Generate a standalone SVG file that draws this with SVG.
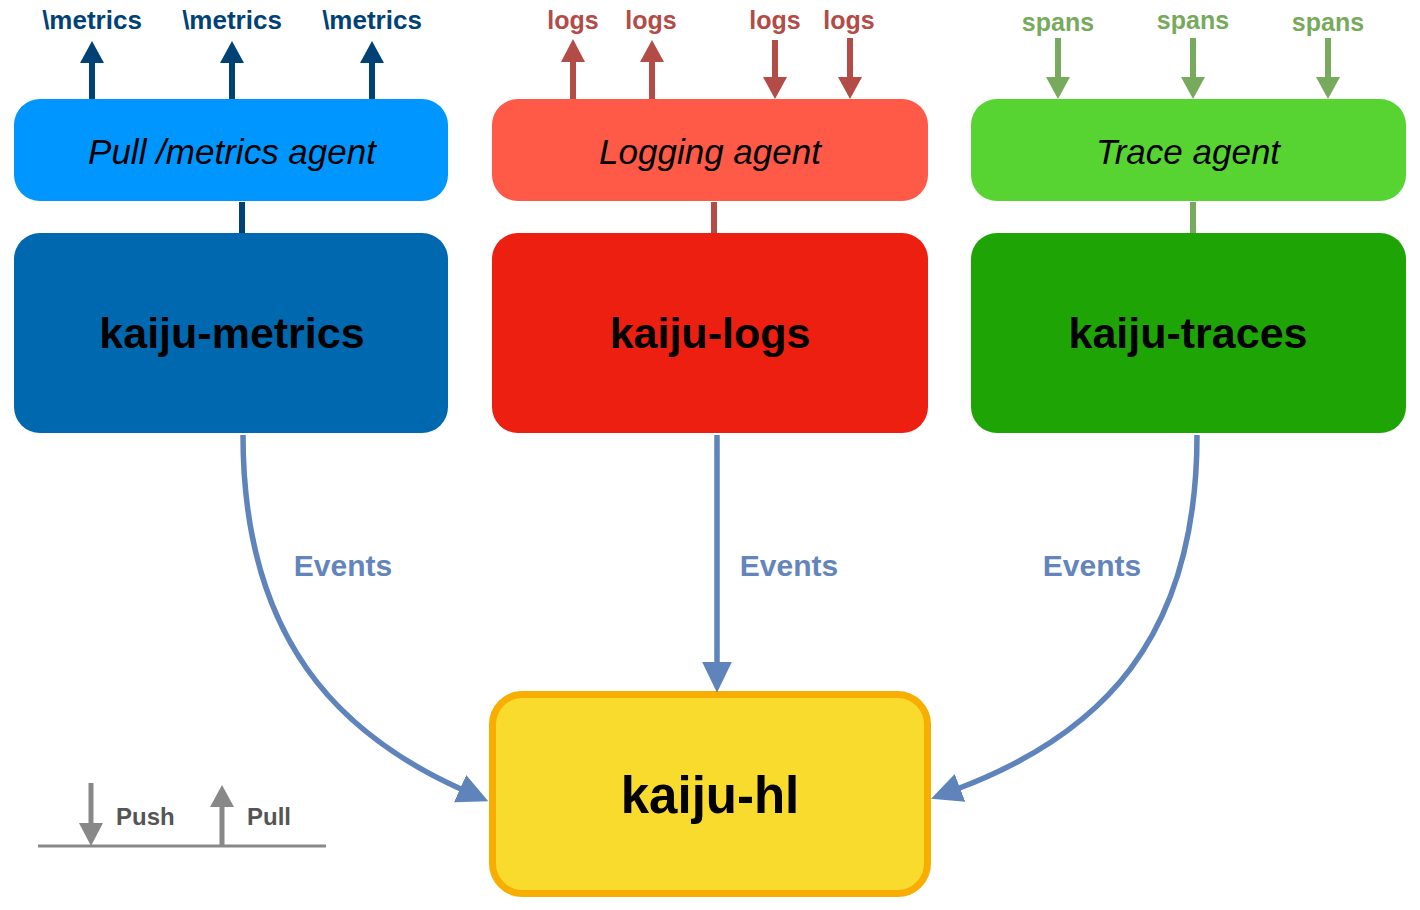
<svg xmlns="http://www.w3.org/2000/svg" width="1420" height="910" viewBox="0 0 1420 910">
<style>
text{font-family:"Liberation Sans",Arial,Helvetica,sans-serif;text-anchor:middle}
.agent{font-size:35px;font-style:italic;fill:#000}
.main{font-size:43px;font-weight:bold;fill:#000}
.lbl{font-size:25px;font-weight:bold}
.ev{font-size:30px;font-weight:bold;fill:#6385BB}
.leg{font-size:24px;font-weight:bold;fill:#555;text-anchor:start}
.evline{fill:none;stroke:#5F84BB;stroke-width:5.5}
</style>
<defs>
<marker id="evh" markerUnits="userSpaceOnUse" markerWidth="32" markerHeight="32" viewBox="0 0 30 30" refX="3" refY="15" orient="auto"><path d="M0,1 L29,15 L0,29 z" fill="#5F84BB"/></marker>
</defs>
<g id="metrics-agent">
<rect x="14" y="99" width="434" height="102" rx="26" fill="#0096FF"/>
<text class="agent" x="232" y="164">Pull /metrics agent</text>
</g>
<g id="logs-agent">
<rect x="492" y="99" width="436" height="102" rx="26" fill="#FF5947"/>
<text class="agent" x="710" y="164">Logging agent</text>
</g>
<g id="trace-agent">
<rect x="971" y="99" width="435" height="102" rx="26" fill="#57D432"/>
<text class="agent" x="1188" y="164">Trace agent</text>
</g>
<g id="kaiju-metrics">
<rect x="14" y="233" width="434" height="200" rx="26" fill="#0068AF"/>
<text class="main" x="232" y="348">kaiju-metrics</text>
</g>
<g id="kaiju-logs">
<rect x="492" y="233" width="436" height="200" rx="26" fill="#EC1F11"/>
<text class="main" x="710" y="348">kaiju-logs</text>
</g>
<g id="kaiju-traces">
<rect x="971" y="233" width="435" height="200" rx="26" fill="#1EA505"/>
<text class="main" x="1188" y="348">kaiju-traces</text>
</g>
<g id="kaiju-hl">
<rect x="492.5" y="694.5" width="435" height="199" rx="30" fill="#F9DB2E" stroke="#F7AE00" stroke-width="7"/>
<text class="main" style="font-size:51px" x="710" y="813">kaiju-hl</text>
</g>
<g id="labels">
<text class="lbl" style="font-size:26px" fill="#004276" x="92" y="29">\metrics</text>
<text class="lbl" style="font-size:26px" fill="#004276" x="232" y="29">\metrics</text>
<text class="lbl" style="font-size:26px" fill="#004276" x="372" y="29">\metrics</text>
<text class="lbl" fill="#B34B46" x="573" y="29">logs</text>
<text class="lbl" fill="#B34B46" x="651" y="29">logs</text>
<text class="lbl" fill="#B34B46" x="775" y="29">logs</text>
<text class="lbl" fill="#B34B46" x="849" y="29">logs</text>
<text class="lbl" fill="#78AA5D" x="1058" y="31">spans</text>
<text class="lbl" fill="#78AA5D" x="1193" y="29">spans</text>
<text class="lbl" fill="#78AA5D" x="1328" y="31">spans</text>
<text class="ev" x="343" y="576">Events</text>
<text class="ev" x="789" y="576">Events</text>
<text class="ev" x="1092" y="576">Events</text>
</g>
<g id="connectors">
<line x1="242" y1="202" x2="242" y2="233" stroke="#004276" stroke-width="6"/>
<line x1="714" y1="202" x2="714" y2="233" stroke="#B34B46" stroke-width="6"/>
<line x1="1193" y1="202" x2="1193" y2="233" stroke="#78AA5D" stroke-width="6"/>
<g fill="#004276" stroke="#004276">
<line x1="92" y1="99" x2="92" y2="62" stroke-width="6"/><path d="M80,63 L92,41 L104,63 z" stroke="none"/>
<line x1="232" y1="99" x2="232" y2="62" stroke-width="6"/><path d="M220,63 L232,41 L244,63 z" stroke="none"/>
<line x1="372" y1="99" x2="372" y2="62" stroke-width="6"/><path d="M360,63 L372,41 L384,63 z" stroke="none"/>
</g>
<g fill="#B34B46" stroke="#B34B46">
<line x1="573" y1="99" x2="573" y2="61" stroke-width="6"/><path d="M561,62 L573,39 L585,62 z" stroke="none"/>
<line x1="652" y1="99" x2="652" y2="61" stroke-width="6"/><path d="M640,62 L652,40 L664,62 z" stroke="none"/>
<line x1="775" y1="40" x2="775" y2="78" stroke-width="6"/><path d="M763,77 L775,99 L787,77 z" stroke="none"/>
<line x1="850" y1="38" x2="850" y2="78" stroke-width="6"/><path d="M838,77 L850,99 L862,77 z" stroke="none"/>
</g>
<g fill="#78AA5D" stroke="#78AA5D">
<line x1="1058" y1="38" x2="1058" y2="78" stroke-width="6"/><path d="M1046,77 L1058,99 L1070,77 z" stroke="none"/>
<line x1="1193" y1="38" x2="1193" y2="78" stroke-width="6"/><path d="M1181,77 L1193,99 L1205,77 z" stroke="none"/>
<line x1="1328" y1="38" x2="1328" y2="78" stroke-width="6"/><path d="M1316,77 L1328,99 L1340,77 z" stroke="none"/>
</g>
<path class="evline" d="M243,435 C243,640 340,735 463,790" marker-end="url(#evh)"/>
<path class="evline" d="M717,435 L717,665" marker-end="url(#evh)"/>
<path class="evline" d="M1197,435 C1197,640 1100,735 957,789" marker-end="url(#evh)"/>
</g>
<g id="legend">
<line x1="38" y1="846" x2="326" y2="846" stroke="#888" stroke-width="3"/>
<line x1="91" y1="783" x2="91" y2="824" stroke="#888" stroke-width="5"/>
<path d="M79,823 L91,846 L103,823 z" fill="#888"/>
<line x1="222" y1="846" x2="222" y2="806" stroke="#888" stroke-width="5"/>
<path d="M210,807 L222,785 L234,807 z" fill="#888"/>
<text class="leg" x="116" y="825">Push</text>
<text class="leg" x="247" y="825">Pull</text>
</g>
</svg>
